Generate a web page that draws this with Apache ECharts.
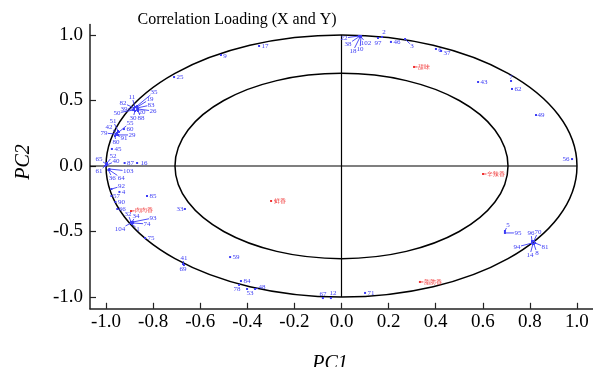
<!DOCTYPE html>
<html>
<head>
<meta charset="utf-8">
<script src="https://cdn.jsdelivr.net/npm/echarts@6/dist/echarts.min.js"></script>
<style>html,body{margin:0;padding:0;background:#fff;}#c{width:593px;height:367px;}</style>
</head>
<body>
<div id="c"></div>
<script>
// ---- data ----
const blueNames = ['17','9','25',
  '35','11','19','82','83','39','26','20','50','30','88',
  '51','55','42','60','79','29','91','80',
  '45','52','65','40','61',
  '87','16',
  '103','64','36',
  '92','4','57','90','66',
  '85',
  '32','34','93','74','104','1',
  '75','33',
  '41','69','59','84','78','53','48',
  '67','12','71',
  '22','38','18','10','102',
  '97','2','46','3','6','37',
  '43','7','62','49','56',
  '5','95',
  '96','70','94','81','14','8'];
const blueX = [-0.350,-0.512,-0.711,
  -0.868,-0.877,-0.868,-0.881,-0.868,-0.881,-0.864,-0.868,-0.885,-0.877,-0.864,
  -0.949,-0.945,-0.953,-0.924,-0.958,-0.949,-0.958,-0.962,
  -0.975,-0.996,-1.000,-0.996,-1.004,
  -0.921,-0.868,
  -0.986,-0.986,-0.990,
  -0.977,-0.943,-0.977,-0.960,-0.952,
  -0.826,
  -0.894,-0.890,-0.885,-0.885,-0.894,-0.890,
  -0.834,-0.665,
  -0.673,-0.669,-0.473,-0.427,-0.435,-0.401,-0.367,
  -0.079,-0.045,0.100,
  0.074,0.079,0.079,0.083,0.083,
  0.155,0.172,0.210,0.270,0.401,0.423,
  0.580,0.720,0.724,0.826,0.979,
  0.694,0.694,
  0.809,0.817,0.809,0.822,0.813,0.817];
const blueY = [0.916,0.847,0.679,
  0.458,0.450,0.450,0.443,0.443,0.435,0.435,0.427,0.427,0.420,0.420,
  0.267,0.260,0.252,0.282,0.244,0.237,0.237,0.229,
  0.130,0.023,0.015,0.008,0.000,
  0.023,0.023,
  -0.023,-0.031,-0.031,
  -0.176,-0.198,-0.229,-0.275,-0.328,
  -0.229,
  -0.427,-0.427,-0.427,-0.435,-0.435,-0.443,
  -0.550,-0.328,
  -0.748,-0.756,-0.695,-0.878,-0.908,-0.939,-0.939,
  -1.008,-1.008,-0.969,
  0.992,0.992,0.985,0.992,0.985,
  0.977,0.985,0.947,0.969,0.893,0.878,
  0.641,0.649,0.588,0.389,0.053,
  -0.496,-0.511,
  -0.573,-0.573,-0.588,-0.588,-0.595,-0.595];
const redNames = ['甜味','辛辣香','脂肪香','鲜香','肉肉香'];
const redX = [0.308,0.601,0.333,-0.299,-0.894];
const redY = [0.756,-0.061,-0.885,-0.267,-0.344];
const xTicks = [-1.0,-0.8,-0.6,-0.4,-0.2,0.0,0.2,0.4,0.6,0.8,1.0];
const yTicks = [-1.0,-0.5,0.0,0.5,1.0];

// ---- label layout (pixel offsets of label centre from its point) ----
const blueLabelDx = [6,4,6,
  17,-3,13,-11,14,-10,15,5,-16,-2,3,
  -5,11,-8,6,-12,14,8,1,
  6,6,-7,9,-6,
  6,7,
  19,12,4,
  10,4,5,6,5,
  6,
  -3,4,20,14,-11,6,
  6,-5,
  1,-1,6,6,-2,3,7,
  0,2,6,
  -15,-12,-7,-1,5,
  0,2,6,7,4,6,
  6,0,6,5,-6,
  3,13,
  -1,4,-15,10,-3,3];
const blueLabelDy = [0,1,0,
  -14,-10,-8,-5,-3,0,2,2,3,7,7,
  -10,-9,-6,0,-1,0,3,6,
  0,-7,-5,-4,5,
  0,0,
  2,8,8,
  -3,0,0,0,0,
  0,
  -8,-6,-4,1,6,5,
  0,0,
  -6,4,0,0,4,4,-2,
  -4,-5,0,
  2,8,14,13,6,
  5,-5,0,7,1,2,
  0,-4,0,0,0,
  -6,0,
  -8,-9,4,4,11,9];
const redLabelDx = [10,13,13,9,13];
const redLabelDy = [0,0,0,0,-1];

const BLUE = '#3b3bf5';
const RED = '#f03030';
const SERIF = '"Liberation Serif","Times New Roman",serif';

const chart = echarts.init(document.getElementById('c'));

function pointSeries(names, xs, ys, dxs, dys, color, fontSize, charW) {
  const data = names.map((n, i) => [xs[i], ys[i], i]);
  return {
    type: 'custom',
    coordinateSystem: 'cartesian2d',
    clip: false,
    silent: true,
    data: data,
    encode: {x: 0, y: 1},
    renderItem: function (params, api) {
      const i = api.value(2);
      const p = api.coord([api.value(0), api.value(1)]);
      const dx = dxs[i], dy = dys[i];
      const cx = p[0] + dx, cy = p[1] + dy;
      const txt = names[i];
      const hw = txt.length * charW / 2 + 0.5, hh = fontSize / 2 - 0.5;
      const children = [
        {type: 'rect', shape: {x: p[0] - 1, y: p[1] - 1, width: 2, height: 2}, style: {fill: color}},
        {type: 'text', style: {text: txt, x: cx, y: cy, align: 'center', verticalAlign: 'middle',
          font: fontSize + 'px ' + SERIF, fill: color}}
      ];
      const sx = dx === 0 ? Infinity : hw / Math.abs(dx);
      const sy = dy === 0 ? Infinity : hh / Math.abs(dy);
      const s = Math.min(sx, sy);
      const len = Math.sqrt(dx * dx + dy * dy) * (1 - s);
      if (s < 1 && len > 3) {
        children.push({type: 'line', shape: {x1: p[0], y1: p[1], x2: cx - dx * s, y2: cy - dy * s},
          style: {stroke: color, lineWidth: 0.9}});
      }
      return {type: 'group', children: children};
    }
  };
}

const frameSeries = {
  type: 'custom',
  coordinateSystem: 'cartesian2d',
  clip: false,
  silent: true,
  data: [[0, 0]],
  encode: {x: 0, y: 1},
  renderItem: function (params, api) {
    const c = api.coord([0, 0]);
    const ex = api.coord([1, 0]);
    const ey = api.coord([0, 1]);
    const eyb = api.coord([0, -1]);
    const rx = ex[0] - c[0], ry = c[1] - ey[1];
    const r2 = Math.sqrt(0.5);
    const left = params.coordSys.x;
    const st = {fill: 'none', stroke: '#000', lineWidth: 1.5};
    return {type: 'group', children: [
      {type: 'line', shape: {x1: left, y1: c[1], x2: ex[0], y2: c[1]}, style: {stroke: '#000', lineWidth: 1.2}},
      {type: 'line', shape: {x1: c[0], y1: ey[1], x2: c[0], y2: eyb[1]}, style: {stroke: '#000', lineWidth: 1.2}},
      {type: 'ellipse', shape: {cx: c[0], cy: c[1], rx: rx, ry: ry}, style: st},
      {type: 'ellipse', shape: {cx: c[0], cy: c[1], rx: rx * r2, ry: ry * r2}, style: st}
    ]};
  }
};

chart.setOption({
  animation: false,
  backgroundColor: '#fff',
  grid: {left: 90, top: 24.5, width: 503, height: 284.3, containLabel: false},
  xAxis: {
    type: 'value', min: -1.068, max: 1.068, position: 'bottom',
    axisLine: {onZero: false, lineStyle: {color: '#222', width: 1.5}},
    axisTick: {inside: true, length: 6, customValues: xTicks, lineStyle: {color: '#222', width: 1.2}},
    axisLabel: {customValues: xTicks, formatter: v => v.toFixed(1), color: '#000', fontFamily: SERIF, fontSize: 19, margin: 4},
    splitLine: {show: false}
  },
  yAxis: {
    type: 'value', min: -1.09, max: 1.08, position: 'left',
    axisLine: {onZero: false, lineStyle: {color: '#222', width: 1.5}},
    axisTick: {inside: true, length: 6, customValues: yTicks, lineStyle: {color: '#222', width: 1.2}},
    axisLabel: {customValues: yTicks, formatter: v => v.toFixed(1), color: '#000', fontFamily: SERIF, fontSize: 19, margin: 7},
    splitLine: {show: false}
  },
  graphic: [
    {type: 'text', x: 237, y: 20, style: {text: 'Correlation Loading (X and Y)',
      align: 'center', verticalAlign: 'middle', font: '16px ' + SERIF, fill: '#000'}},
    {type: 'text', x: 330, y: 364, style: {text: 'PC1', align: 'center', verticalAlign: 'middle',
      font: 'italic 20px ' + SERIF, fill: '#000'}},
    {type: 'text', x: 24, y: 162, rotation: Math.PI / 2, style: {text: 'PC2', align: 'center', verticalAlign: 'middle',
      font: 'italic 20px ' + SERIF, fill: '#000'}}
  ],
  series: [
    frameSeries,
    pointSeries(blueNames, blueX, blueY, blueLabelDx, blueLabelDy, BLUE, 7, 3.5),
    pointSeries(redNames, redX, redY, redLabelDx, redLabelDy, RED, 6, 6)
  ]
});
</script>
</body>
</html>
